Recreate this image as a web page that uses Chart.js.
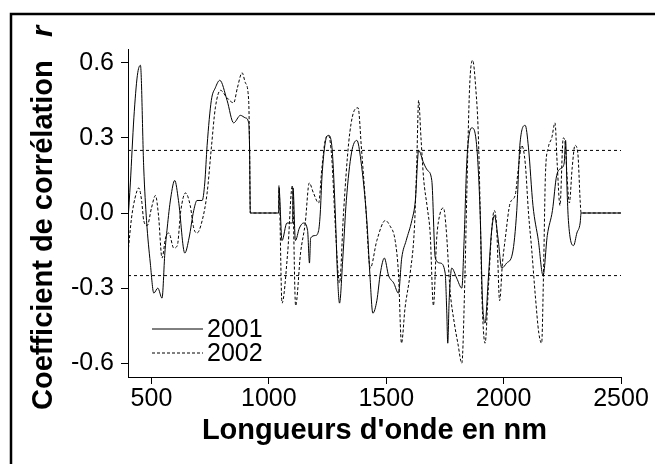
<!DOCTYPE html>
<html>
<head>
<meta charset="utf-8">
<script src="https://cdn.jsdelivr.net/npm/chart.js@4.4.0/dist/chart.umd.min.js"></script>
<style>
  html, body { margin: 0; padding: 0; background: #fff; }
</style>
</head>
<body>
<canvas id="chartCorrelation" width="655" height="464"></canvas>
<script>
// DONNEES : coefficient de correlation r selon la longueur d'onde
const wl2001 = [400, 410, 425, 440, 453, 467, 479, 495, 510, 527, 545, 557, 567, 582, 599, 615, 642, 660, 680, 694,
  716, 727, 737, 755, 772, 791, 822, 850, 879, 900, 914, 918, 921, 1042, 1043, 1056, 1077, 1095, 1101, 1103,
  1113, 1130, 1148, 1165, 1173, 1178, 1198, 1212, 1219, 1226, 1240, 1254, 1268, 1283, 1292, 1301, 1315, 1330, 1352, 1375,
  1392, 1418, 1430, 1443, 1460, 1475, 1492, 1510, 1532, 1552, 1566, 1585, 1609, 1624, 1638, 1659, 1676, 1694, 1709, 1730,
  1751, 1758, 1762, 1768, 1779, 1800, 1822, 1832, 1843, 1857, 1866, 1886, 1900, 1910, 1921, 1935, 1948, 1961, 1976, 1992,
  2013, 2038, 2056, 2070, 2092, 2106, 2125, 2148, 2168, 2186, 2208, 2226, 2247, 2258, 2264, 2270, 2276, 2298, 2312, 2326,
  2330, 2500];
const r2001 = [-0.03, 0.12, 0.38, 0.55, 0.59, 0.18, -0.03, -0.20, -0.32, -0.30, -0.34, -0.16, -0.06, 0.06, 0.13, 0.05, -0.16, -0.10, 0.01, 0.05,
  0.05, 0.12, 0.27, 0.45, 0.50, 0.53, 0.45, 0.36, 0.39, 0.38, 0.36, 0.25, 0.00, 0.00, 0.10, -0.11, -0.04, -0.04, -0.04, 0.10,
  -0.11, -0.06, -0.04, -0.07, -0.20, -0.10, -0.09, -0.07, 0.00, 0.14, 0.28, 0.31, 0.27, 0.00, -0.24, -0.36, -0.18, 0.05, 0.24, 0.29,
  0.21, -0.04, -0.24, -0.40, -0.35, -0.24, -0.18, -0.25, -0.28, -0.32, -0.18, -0.11, -0.03, 0.05, 0.25, 0.20, 0.17, 0.13, -0.18, -0.20,
  -0.24, -0.40, -0.52, -0.35, -0.22, -0.26, -0.30, -0.10, 0.20, 0.33, 0.34, 0.26, 0.00, -0.35, -0.44, -0.26, -0.08, -0.01, -0.10, -0.22,
  -0.20, -0.16, 0.01, 0.28, 0.35, 0.26, 0.03, -0.11, -0.25, -0.09, 0.01, 0.15, 0.18, 0.20, 0.29, 0.10, -0.03, -0.13, -0.08, -0.04,
  0.00, 0.00];

const wl2002 = [400, 415, 430, 446, 458, 467, 482, 500, 517, 530, 545, 560, 574, 595, 610, 625, 645, 665, 680, 694,
  716, 737, 755, 772, 794, 822, 850, 866, 886, 900, 914, 918, 921, 1042, 1043, 1056, 1080, 1100, 1114, 1135,
  1155, 1172, 1190, 1212, 1226, 1240, 1254, 1268, 1283, 1301, 1318, 1340, 1360, 1380, 1395, 1411, 1432, 1460, 1496, 1515,
  1538, 1552, 1565, 1580, 1602, 1620, 1630, 1638, 1648, 1659, 1675, 1687, 1701, 1715, 1730, 1744, 1755, 1772, 1790, 1805,
  1822, 1835, 1843, 1855, 1868, 1882, 1892, 1900, 1907, 1914, 1921, 1935, 1950, 1960, 1970, 1983, 1995, 2006, 2028, 2049,
  2063, 2077, 2092, 2106, 2120, 2135, 2150, 2162, 2170, 2178, 2190, 2205, 2219, 2228, 2240, 2254, 2262, 2270, 2280, 2292,
  2304, 2316, 2326, 2330, 2500];
const r2002 = [-0.16, -0.02, 0.06, 0.10, 0.05, -0.03, -0.05, 0.02, 0.07, -0.01, -0.18, -0.10, -0.08, -0.14, -0.13, 0.01, 0.08, 0.03, -0.06, -0.08,
  -0.03, 0.08, 0.26, 0.42, 0.49, 0.46, 0.44, 0.50, 0.56, 0.52, 0.45, 0.25, 0.00, 0.00, 0.11, -0.36, -0.16, 0.11, -0.37, -0.16,
  -0.04, 0.12, 0.08, 0.04, 0.18, 0.29, 0.31, 0.22, -0.05, -0.28, 0.00, 0.28, 0.40, 0.42, 0.25, 0.05, -0.22, -0.11, -0.03, -0.05,
  -0.11, -0.24, -0.52, -0.38, -0.24, -0.06, 0.20, 0.45, 0.30, 0.14, 0.02, -0.08, -0.37, -0.10, 0.00, 0.02, -0.06, -0.31, -0.44, -0.52,
  -0.60, -0.26, 0.07, 0.50, 0.61, 0.49, 0.32, 0.02, -0.31, -0.47, -0.52, -0.30, -0.06, 0.01, -0.05, -0.35, -0.20, -0.11, 0.04, 0.07,
  0.18, 0.27, 0.20, 0.00, -0.15, -0.33, -0.48, -0.52, -0.24, 0.15, 0.26, 0.30, 0.36, 0.20, 0.03, 0.30, 0.28, 0.15, 0.04, 0.18,
  0.27, 0.24, 0.05, 0.00, 0.00];

const seuils = [0.25, -0.25];
const xTicks = [500, 1000, 1500, 2000, 2500];
const yTicks = [-0.6, -0.3, 0.0, 0.3, 0.6];
const annees = ['2001', '2002'];

const police = '"Liberation Sans", Arial, sans-serif';

const toPoints = (xs, ys) => xs.map((x, i) => ({ x: x, y: ys[i] }));

const datasets = [
  { label: annees[0], data: toPoints(wl2001, r2001), borderColor: '#000', borderWidth: 1,
    pointRadius: 0, cubicInterpolationMode: 'monotone' },
  { label: annees[1], data: toPoints(wl2002, r2002), borderColor: '#000', borderWidth: 1,
    borderDash: [3, 2], pointRadius: 0, cubicInterpolationMode: 'monotone' }
];
seuils.forEach(s => {
  datasets.push({ label: 'seuil', data: [{ x: 400, y: s }, { x: 2500, y: s }], borderColor: '#000',
    borderWidth: 1, borderDash: [3, 3], pointRadius: 0 });
});

// titres, legende et cadre dessines a la main
const habillage = {
  id: 'habillage',
  afterDraw(chart) {
    const ctx = chart.ctx;
    const area = chart.chartArea;
    ctx.save();
    ctx.fillStyle = '#000';
    ctx.strokeStyle = '#000';

    // cadre
    ctx.lineWidth = 2.5;
    ctx.strokeRect(11, 14, 700, 500);

    // titre axe x
    ctx.font = 'bold 29px ' + police;
    ctx.textAlign = 'center';
    ctx.textBaseline = 'alphabetic';
    ctx.fillText("Longueurs d'onde en nm", (area.left + area.right) / 2, 439);

    // titre axe y
    ctx.save();
    ctx.translate(52, 410);
    ctx.rotate(-Math.PI / 2);
    ctx.textAlign = 'left';
    ctx.fillText('Coefficient de corrélation', 0, 0);
    ctx.font = 'italic bold 29px ' + police;
    ctx.fillText('r', 373, 0);
    ctx.restore();

    // legende
    ctx.font = '25px ' + police;
    ctx.textAlign = 'left';
    ctx.textBaseline = 'middle';
    ctx.lineWidth = 1;
    annees.forEach((a, i) => {
      const y = 329 + i * 24;
      ctx.setLineDash(i === 0 ? [] : [3, 2]);
      ctx.beginPath();
      ctx.moveTo(152, y);
      ctx.lineTo(203, y);
      ctx.stroke();
      ctx.fillText(a, 207, y + 1);
    });
    ctx.restore();
  }
};

new Chart(document.getElementById('chartCorrelation'), {
  type: 'line',
  data: { datasets: datasets },
  plugins: [habillage],
  options: {
    responsive: false,
    animation: false,
    devicePixelRatio: 1,
    layout: { padding: { left: 0, top: 49, right: 34, bottom: 0 } },
    plugins: { legend: { display: false }, tooltip: { enabled: false } },
    scales: {
      x: {
        type: 'linear', min: 400, max: 2500,
        afterBuildTicks: s => { s.ticks = xTicks.map(v => ({ value: v })); },
        afterFit: s => { s.height = 87; },
        grid: { drawOnChartArea: false, tickLength: 7, color: '#000' },
        border: { color: '#000', width: 1 },
        ticks: { color: '#000', font: { family: police, size: 25 }, padding: 0, maxRotation: 0, autoSkip: false,
          callback: v => String(v) }
      },
      y: {
        type: 'linear', min: -0.655, max: 0.655,
        afterBuildTicks: s => { s.ticks = yTicks.map(v => ({ value: v })); },
        afterFit: s => { s.width = 128; },
        grid: { drawOnChartArea: false, tickLength: 7, color: '#000' },
        border: { color: '#000', width: 1 },
        ticks: { color: '#000', font: { family: police, size: 25 }, padding: 7,
          callback: v => v.toFixed(1) }
      }
    }
  }
});
</script>
</body>
</html>
